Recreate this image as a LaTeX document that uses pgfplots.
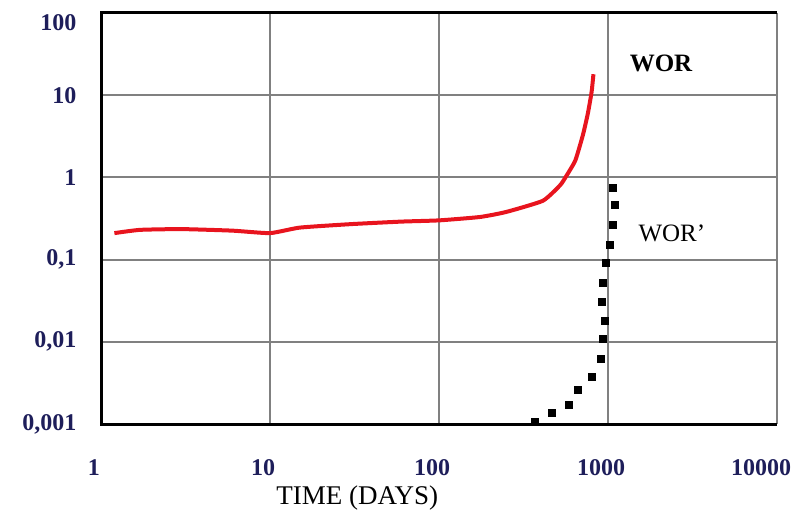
\documentclass[border=0pt]{standalone}
\usepackage{pgfplots}
\pgfplotsset{compat=1.18}
\usepackage{fontspec}
\setmainfont{Liberation Serif}
\definecolor{navy}{HTML}{1E1E5A}
\definecolor{redline}{HTML}{E8141E}
\definecolor{gridgray}{HTML}{808080}
\begin{document}
\begin{tikzpicture}
\path[use as bounding box] (0,0) rectangle (798pt,516pt);
\begin{axis}[
  at={(101pt,92pt)}, anchor=south west,
  scale only axis, width=676pt, height=411pt,
  xmode=log, ymode=log,
  xmin=1, xmax=10000, ymin=0.001, ymax=100,
  xtick={1,10,100,1000,10000},
  xticklabels={1,10,100,1000,{10000\hbox to 18pt{}}},
  ytick={0.001,0.01,0.1,1,10,100},
  yticklabels={{0,001},{0,01},{0,1},1,10,{\raisebox{-10pt}[16pt][0pt]{100}}},
  minor tick num=0,
  xminorticks=false, yminorticks=false,
  major tick length=0pt,
  grid=major,
  major grid style={draw=gridgray, line width=2pt},
  axis line style={draw=none},
  ticklabel style={font=\fontsize{24}{24}\selectfont\bfseries, text=navy},
  xticklabel style={yshift=-32pt, xshift=-7pt},
  yticklabel style={xshift=-21pt},
  xlabel={TIME (DAYS)},
  xlabel style={font=\fontsize{27}{27}\selectfont, at={(axis description cs:0.379,0)}, anchor=north, yshift=-58pt},
  clip=false,
]
\draw[black, line width=3pt] (rel axis cs:1,1) -- (rel axis cs:0,1) -- (rel axis cs:0,0) -- (rel axis cs:1,0);
\addplot[redline, line width=4pt, smooth, tension=0.3] coordinates {
(1.2,0.21) (1.7,0.23) (3,0.235) (6,0.225) (10,0.21) (15,0.245) (30,0.27)
(60,0.29) (100,0.30) (175,0.33) (250,0.38) (412,0.52) (520,0.8) (560,1.0)
(640,1.6) (711,3.3) (760,6) (800,11) (820,18)
};
\addplot[only marks, mark=square*, mark size=3.5pt, black] coordinates {
(370,0.00106) (466,0.00136) (588,0.0017) (664,0.0026) (804,0.0038)
(909,0.0062) (934,0.0108) (960,0.0179) (921,0.0305) (934,0.052)
(973,0.091) (1028,0.15) (1071,0.264) (1100,0.46) (1071,0.74)
};
\node[font=\fontsize{25}{25}\selectfont\bfseries, anchor=west] at (rel axis cs:0.777,0.878) {WOR};
\node[font=\fontsize{25}{25}\selectfont, anchor=west] at (rel axis cs:0.79,0.465) {WOR'};
\end{axis}
\end{tikzpicture}
\end{document}
